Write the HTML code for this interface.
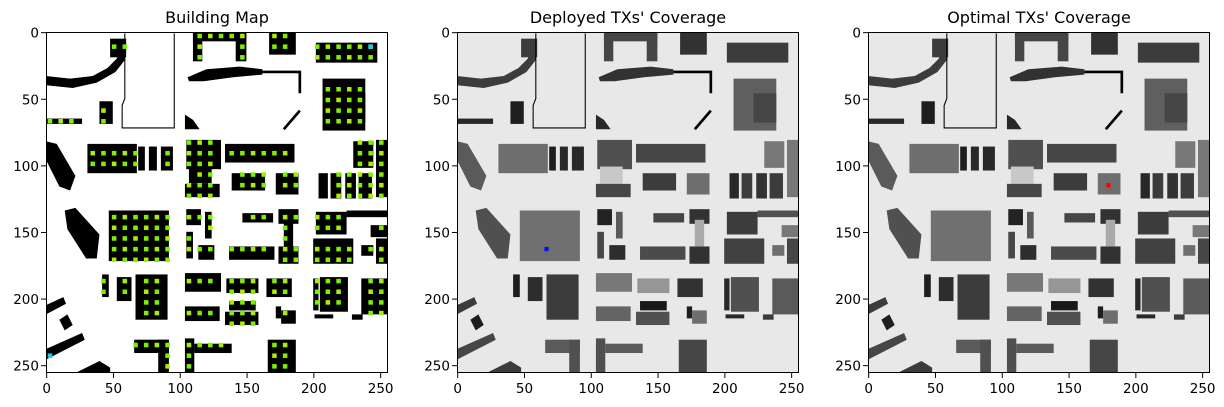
<!DOCTYPE html>
<html><head><meta charset="utf-8">
<style>
html,body{margin:0;padding:0;background:#fff;}
body{width:1224px;height:407px;position:relative;overflow:hidden;font-family:"DejaVu Sans","Liberation Sans",sans-serif;}
svg{position:absolute;left:0;top:0;}
</style></head>
<body>
<svg id="fig" width="1224" height="407"></svg>
<script>
// Building footprints in map units: [x, y, w, h, gray level 0-255]
const buildings = [
 [48,5,12,14,60],[110,0,7,22,70],[142,0,8,22,70],[110,0,40,7,70],[167,0,20,17,50],
 [202,8,46,15,60],[207,35,32,39,95],[222,46,17,22,70],[40,52,10,17,30],[0,65,27,4,40],
 [31,84,37,22,110],[69,86,5,18,30],[77,86,6,18,40],[86,86,9,18,40],[105,81,26,22,80],
 [107,101,17,13,200],[104,114,26,10,70],[134,84,52,14,70],[139,106,25,13,60],
 [172,106,17,16,110],[230,82,15,20,120],[247,81,9,43,120],[204,106,7,19,40],
 [213,106,8,19,60],[224,106,8,19,50],[234,106,10,19,60],
 [47,134,45,38,112],[105,133,11,12,35],[119,135,5,20,90],[105,150,5,20,70],[114,160,12,11,45],
 [147,136,23,7,70],[174,133,15,11,50],[137,161,34,10,75],[174,161,15,13,50],[178,141,7,20,170],
 [202,135,23,17,60],[225,134,31,5,80],[243,145,13,9,120],[200,155,30,19,65],[236,160,9,8,110],[247,155,9,19,70],
 [42,182,5,17,30],[53,184,11,18,45],[67,182,24,34,60],[104,181,27,14,120],[135,185,24,11,150],
 [165,185,19,14,50],[200,185,4,24,40],[205,184,21,26,80],[236,185,20,27,90],[137,202,20,7,25],
 [104,206,26,11,100],[134,210,25,10,80],[172,206,4,9,30],[176,209,11,10,110],[201,212,14,3,40],[229,212,8,4,60],
 [66,231,26,10,90],[84,231,8,25,80],[104,230,7,26,80],[111,234,28,7,90],[166,231,21,25,70]
];
// Slanted / curved building polygons (points in map units) with gray level
const polys = [
 [[0,33],[18,35],[35,33],[46,27],[53,20],[55,12],[59,12],[59,21],[52,30],[38,38],[20,42],[0,40],60],
 [[106,34],[120,28],[145,26],[162,28],[162,32],[140,34],[118,37],[107,37],50],
 [[0,82],[8,84],[22,108],[18,119],[10,116],[0,96],90],
 [[14,134],[22,132],[40,152],[38,170],[30,170],[16,148],80],
 [[104,62],[110,66],[115,73],[104,73],40],
 [[0,205],[13,199],[15,204],[0,212],60],[[10,216],[16,212],[20,220],[14,224],30],
 [[0,238],[27,226],[29,231],[0,246],70],[[22,256],[40,247],[48,252],[48,256],60]
];
const txBlue = [[67,163]];
const txRed = [[180,115]];
const txCyan = [[243,11],[3,243]];
const tickVals = [0,50,100,150,200,250];
const titles = ["Building Map","Deployed TXs' Coverage","Optimal TXs' Coverage"];
const panelLeft = [46,457,868];

const NS="http://www.w3.org/2000/svg";
const fig=document.getElementById('fig');
const TOP=32, W=342, H=341, N=256;
function mk(t,a,p){const e=document.createElementNS(NS,t);for(const k in a)e.setAttribute(k,a[k]);(p||fig).appendChild(e);return e;}
function inside(px,py){
  for(const b of buildings){if(px>=b[0]+1&&px<=b[0]+b[2]-1&&py>=b[1]+1&&py<=b[1]+b[3]-1)return true;}
  return false;
}
panelLeft.forEach((L,pi)=>{
  const sx=v=>L+(v+0.5)*W/N, sy=v=>TOP+(v+0.5)*H/N;
  const g=mk('svg',{x:L,y:TOP,width:W,height:H,viewBox:'0 0 256 256',preserveAspectRatio:'none'});
  
  
  mk('rect',{x:0,y:0,width:256,height:256,fill:pi==0?'#fff':'#e8e8e8'},g);
  const fillOf=s=>pi==0?'#000':`rgb(${s},${s},${s})`;
  buildings.forEach(b=>{const r=mk('rect',{x:b[0],y:b[1],width:b[2],height:b[3],fill:fillOf(b[4])},g);
    
    });
  polys.forEach(p=>{const s=p[p.length-1];const pts=p.slice(0,-1).map(q=>q.join(',')).join(' ');
    const e=mk('polygon',{points:pts,fill:fillOf(s)},g);
    
    });
  mk('path',{d:'M59,1 L59,50 L57,55 L57,72 L96,72 L96,1',fill:'none',stroke:'#000','stroke-width':0.8},g);
  mk('path',{d:'M162,30 L190,30 L190,46 M190,59 L178,73',fill:'none',stroke:'#000','stroke-width':2},g);
  if(pi==0){
    for(let y=3;y<256;y+=8)for(let x=3;x<256;x+=8){
      if(inside(x,y)){const d=mk('rect',{x:x-1.7,y:y-1.7,width:3.4,height:3.4,fill:(x+y)%3?'#7cf000':'#a8f000'},g);
        
        }
    }
    txCyan.forEach(c=>{const d=mk('rect',{x:c[0]-1.7,y:c[1]-1.7,width:3.4,height:3.4,fill:'#20c8f0'},g);
      
      });
  }
  if(pi==1)txBlue.forEach(c=>{const d=mk('rect',{x:c[0]-1.6,y:c[1]-1.6,width:3.2,height:3.2,fill:'#0010ff'},g);
    
    });
  if(pi==2)txRed.forEach(c=>{const d=mk('rect',{x:c[0]-1.6,y:c[1]-1.6,width:3.2,height:3.2,fill:'#ff0000'},g);
    
    });
  const fr=mk('rect',{x:L+0.5,y:TOP+0.5,width:W-1,height:H-1,fill:'none',stroke:'#000','stroke-width':1});
  
  
  const t=mk('text',{x:L+W/2,y:23,'text-anchor':'middle','font-size':16,fill:'#000'});
  t.textContent=titles[pi];
  
  
  tickVals.forEach(v=>{
    const x=sx(v),y=sy(v);
    mk('line',{x1:x,x2:x,y1:TOP+H,y2:TOP+H+5,stroke:'#000','stroke-width':1});
    const xl=mk('text',{x:x,y:TOP+H+20,'text-anchor':'middle','font-size':13.5,fill:'#000'});
    xl.textContent=v;
    
    
    mk('line',{x1:L-5,x2:L,y1:y,y2:y,stroke:'#000','stroke-width':1});
    const yl=mk('text',{x:L-7,y:y+5,'text-anchor':'end','font-size':13.5,fill:'#000'});
    yl.textContent=v;
    
    
  });
});
</script>
</body></html>
